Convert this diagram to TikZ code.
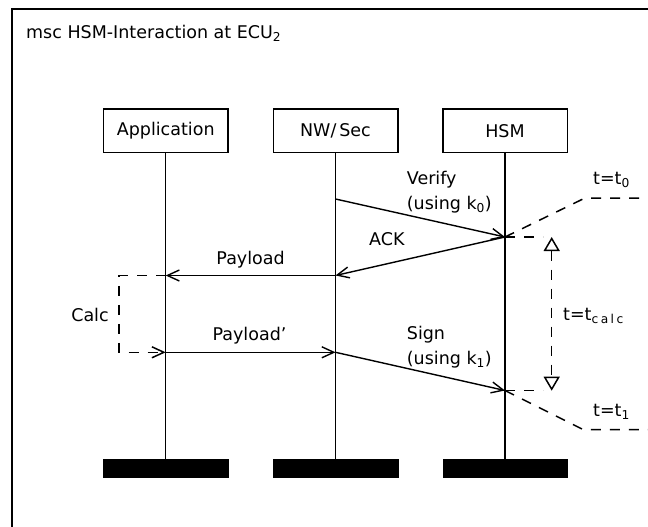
\documentclass[tikz,border=0pt]{standalone}
\usepackage{fontspec}
\setmainfont{DejaVu Sans}
\usetikzlibrary{arrows.meta}
\begin{document}
\begin{tikzpicture}[x=1pt,y=-1pt,
  every node/.style={font=\fontsize{17.5}{25}\selectfont},
  lbl/.style={inner sep=0pt},
  inst/.style={draw,line width=1.5pt,minimum width=124.5pt,minimum height=43.5pt,inner sep=0pt},
  endbar/.style={fill=black,draw=black,line width=0.5pt,minimum width=124.5pt,minimum height=17.5pt,inner sep=0pt},
  life/.style={line width=1.5pt},
  msg/.style={line width=1.4pt,-{Straight Barb[length=12pt,width=11pt]}},
  dsh/.style={line width=1.5pt,dash pattern=on 10pt off 9pt},
  frame/.style={line width=2pt}]
\useasboundingbox (0,0) rectangle (648,527);
% frame
\coordinate (fbl) at (11.7,530);
\coordinate (ftl) at (11.7,9.3);
\coordinate (ftr) at (651,9.3);
\draw[frame] (fbl) -- (ftl) -- (ftr);
\node[lbl,anchor=base west] (title) at (26,38.3) {msc HSM-Interaction at ECU\textsubscript{2}};
% instances
\node[inst] (app) at (165.7,130.9) {Application};
\node[inst] (nw) at (335.5,130.9) {NW/\,Sec};
\node[inst] (hsm) at (505,130.9) {HSM};
\node[endbar] (appE) at (165.7,468) {};
\node[endbar] (nwE) at (335.5,468) {};
\node[endbar] (hsmE) at (505,468) {};
\draw[life] (app.south) -- (appE.north);
\draw[life] (nw.south) -- (nwE.north);
\draw[life] (hsm.south) -- (hsmE.north);
% points on lifelines
\coordinate (nwV) at (335.5,199);
\coordinate (hsmV) at (505,237);
\coordinate (nwA) at (335.5,275.5);
\coordinate (appP) at (165.7,275.5);
\coordinate (appQ) at (165.7,352.3);
\coordinate (nwQ) at (335.5,352.3);
\coordinate (hsmS) at (505,390.5);
% messages
\draw[msg] (nwV) -- (hsmV);
\node[lbl,anchor=north west,align=left] (verify) at (406.7,171) {Verify\\(using k\textsubscript{0})};
\draw[msg] (hsmV) -- (nwA);
\node[lbl,anchor=base west] (ack) at (369,245) {ACK};
\draw[msg] (nwA) -- (appP);
\node[lbl,anchor=base] (pay) at (250.6,264) {Payload};
\coordinate (calc1) at (119,275.5);
\coordinate (calc2) at (119,352.3);
\draw[dsh,-{Straight Barb[length=12pt,width=11pt]}] (appP) -- (calc1) -- (calc2) -- (appQ);
\node[lbl,anchor=base] (calc) at (90,321) {Calc};
\draw[msg] (appQ) -- (nwQ);
\node[lbl,anchor=base] (pay2) at (249.5,340.7) {Payload’};
\draw[msg] (nwQ) -- (hsmS);
\node[lbl,anchor=north west,align=left] (sign) at (406.7,326) {Sign\\(using k\textsubscript{1})};
% time annotations
\coordinate (t0a) at (585,198);
\coordinate (t0b) at (651,198);
\draw[dsh] (hsmV) -- (t0a) -- (t0b);
\node[lbl,anchor=base west] (t0) at (593,184.3) {t=t\textsubscript{0}};
\coordinate (t1a) at (583,429.5);
\coordinate (t1b) at (651,429.5);
\draw[dsh] (hsmS) -- (t1a) -- (t1b);
\node[lbl,anchor=base west] (t1) at (593,416.7) {t=t\textsubscript{1}};
\coordinate (cTop) at (551.7,237);
\coordinate (cBot) at (551.7,390.7);
\coordinate (hTop) at (543,237);
\coordinate (hBot) at (543,390.5);
\draw[dsh] (hsmV) -- (hTop);
\draw[dsh] (hsmS) -- (hBot);
\draw[dsh,{Triangle[open,length=14pt,width=16pt]}-{Triangle[open,length=14pt,width=16pt]}] (cTop) -- (cBot);
\node[lbl,anchor=base west] (tc) at (563,320) {t=t\textsubscript{\addfontfeature{LetterSpace=20}calc}};
\end{tikzpicture}
\end{document}
